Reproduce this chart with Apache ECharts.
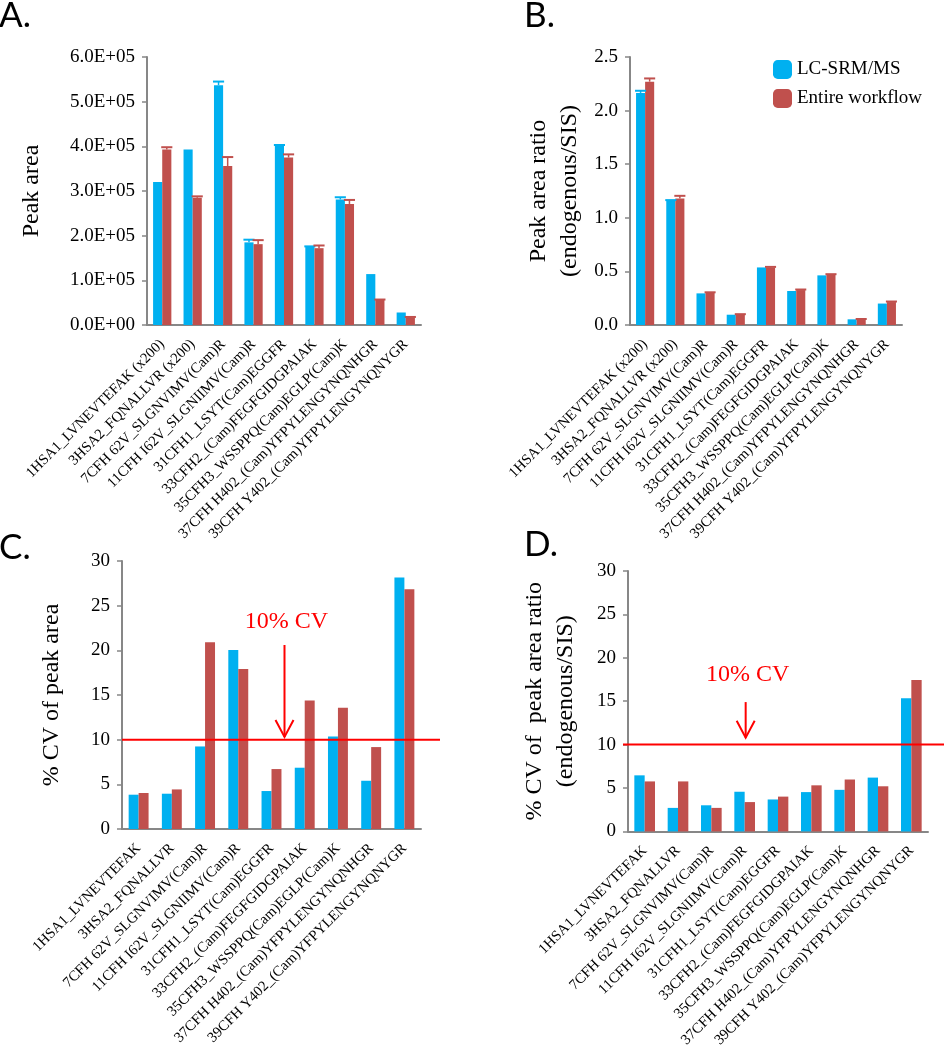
<!DOCTYPE html>
<html>
<head>
<meta charset="utf-8">
<script src="https://cdn.jsdelivr.net/npm/echarts@6/dist/echarts.min.js"></script>
<style>
html,body{margin:0;padding:0;background:#fff;}
#chart{width:944px;height:1050px;}
</style>
</head>
<body>
<div id="chart"></div>
<script>
// ---------------- DATA ----------------
const categoriesAB = [
  '1HSA1_LVNEVTEFAK (x200)', '3HSA2_FQNALLVR (x200)', '7CFH 62V_SLGNVIMV(Cam)R',
  '11CFH I62V_SLGNIIMV(Cam)R', '31CFH1_LSYT(Cam)EGGFR', '33CFH2_(Cam)FEGFGIDGPAIAK',
  '35CFH3_WSSPPQ(Cam)EGLP(Cam)K', '37CFH H402_(Cam)YFPYLENGYNQNHGR', '39CFH Y402_(Cam)YFPYLENGYNQNYGR'
];
const categoriesCD = [
  '1HSA1_LVNEVTEFAK', '3HSA2_FQNALLVR', '7CFH 62V_SLGNVIMV(Cam)R',
  '11CFH I62V_SLGNIIMV(Cam)R', '31CFH1_LSYT(Cam)EGGFR', '33CFH2_(Cam)FEGFGIDGPAIAK',
  '35CFH3_WSSPPQ(Cam)EGLP(Cam)K', '37CFH H402_(Cam)YFPYLENGYNQNHGR', '39CFH Y402_(Cam)YFPYLENGYNQNYGR'
];
const seriesNames = ['LC-SRM/MS', 'Entire workflow'];

// A: peak area
const areaLC      = [320000, 393000, 537000, 185000, 402000, 175000, 281000, 114000, 28000];
const areaLCErr   = [0, 0, 8000, 6000, 1000, 1000, 5000, 0, 0];
const areaWF      = [393000, 285000, 356000, 181000, 375000, 172000, 271000, 56000, 17000];
const areaWFErr   = [5000, 3000, 20000, 9000, 7000, 6000, 9000, 1000, 1000];
const yTicksA     = ['0.0E+00', '1.0E+05', '2.0E+05', '3.0E+05', '4.0E+05', '5.0E+05', '6.0E+05'];

// B: peak area ratio
const ratioLC     = [2.165, 1.16, 0.295, 0.096, 0.537, 0.317, 0.463, 0.053, 0.20];
const ratioLCErr  = [0.02, 0.005, 0, 0, 0, 0, 0, 0, 0];
const ratioWF     = [2.27, 1.18, 0.30, 0.096, 0.537, 0.326, 0.469, 0.053, 0.214];
const ratioWFErr  = [0.03, 0.025, 0.005, 0.005, 0.005, 0.005, 0.005, 0.003, 0.005];
const yTicksB     = ['0.0', '0.5', '1.0', '1.5', '2.0', '2.5'];

// C: %CV of peak area
const cvAreaLC    = [3.84, 3.95, 9.24, 20.05, 4.25, 6.86, 10.36, 5.40, 28.14];
const cvAreaWF    = [4.03, 4.43, 20.9, 17.9, 6.71, 14.39, 13.57, 9.17, 26.84];

// D: %CV of peak area ratio
const cvRatioLC   = [6.46, 2.71, 3.01, 4.57, 3.68, 4.53, 4.79, 6.20, 15.34];
const cvRatioWF   = [5.76, 5.76, 2.71, 3.38, 4.01, 5.31, 5.98, 5.20, 17.45];

const cvThreshold = 10;
const cvLabel = '10% CV';

// ---------------- STYLE ----------------
const BLUE = '#00B0F0', RED = '#C0504D', AXIS = '#878787', LINE_RED = '#FF0000';
const SERIF = '"Liberation Serif", "Times New Roman", serif';

const chart = echarts.init(document.getElementById('chart'), null, {renderer: 'canvas'});

function errRender(sign, color, gapFrac) {
  return function (params, api) {
    const e = api.value(2);
    if (!e) return null;
    const x = api.value(0), v = api.value(1);
    const band = api.size([1, 0])[0];
    const bw = band * (1 - gapFrac) / 2;
    const top = api.coord([x, v + e]);
    const base = api.coord([x, v]);
    const cx = top[0] + sign * bw / 2;
    const half = bw / 2 + 1;
    return {
      type: 'group',
      children: [
        {type: 'line', shape: {x1: cx, y1: base[1], x2: cx, y2: top[1]}, style: {stroke: color, lineWidth: 1.5}},
        {type: 'line', shape: {x1: cx - half, y1: top[1], x2: cx + half, y2: top[1]}, style: {stroke: color, lineWidth: 2}}
      ]
    };
  };
}

function thresholdRender(cfg) {
  return function (params, api) {
    const cs = params.coordSys;
    const y = api.coord([0, api.value(1)])[1];
    const ax = api.coord([cfg.arrowCat, 0])[0] + cfg.dx;
    const yFrom = api.coord([0, cfg.arrowFrom])[1];
    const yTo = api.coord([0, cfg.arrowTo])[1];
    const yText = api.coord([0, cfg.textAt])[1];
    return {
      type: 'group',
      children: [
        {type: 'line', shape: {x1: cs.x + cfg.left, y1: y, x2: cs.x + cs.width + cfg.right, y2: y}, style: {stroke: LINE_RED, lineWidth: 2}},
        {type: 'line', shape: {x1: ax, y1: yFrom, x2: ax, y2: yTo}, style: {stroke: LINE_RED, lineWidth: 2}},
        {type: 'polyline', shape: {points: [[ax - 9, yTo - 17], [ax, yTo], [ax + 9, yTo - 17]]}, style: {stroke: LINE_RED, lineWidth: 2, fill: null}},
        {type: 'text', style: {x: ax + 2, y: yText, text: cvLabel, fill: LINE_RED, font: '24px ' + SERIF, align: 'center', verticalAlign: 'middle'}}
      ]
    };
  };
}

function xAxisCfg(gridIndex, cats) {
  return {
    type: 'category', gridIndex: gridIndex, data: cats,
    axisLine: {lineStyle: {color: AXIS, width: 2}},
    axisTick: {show: false},
    axisLabel: {rotate: 45, interval: 0, fontSize: 14.7, fontFamily: SERIF, color: '#000', margin: 17}
  };
}
function yAxisCfg(gridIndex, max, interval, ticks, name, nameGap) {
  return {
    type: 'value', gridIndex: gridIndex, min: 0, max: max, interval: interval,
    splitLine: {show: false},
    axisLine: {show: true, lineStyle: {color: AXIS, width: 2}},
    axisTick: {show: true, length: 5, lineStyle: {color: AXIS, width: 1.5}},
    axisLabel: {
      fontSize: 19, fontFamily: SERIF, color: '#000', margin: 12,
      formatter: ticks ? function (v) { return ticks[Math.round(v / interval)]; } : '{value}'
    },
    name: name, nameLocation: 'middle', nameRotate: 90, nameGap: nameGap,
    nameTextStyle: {fontSize: 24, fontFamily: SERIF, color: '#000', lineHeight: 31}
  };
}

function barSeries(name, color, data, axisIdx, gap) {
  return {
    type: 'bar', name: name, xAxisIndex: axisIdx, yAxisIndex: axisIdx,
    data: data, itemStyle: {color: color}, barGap: '0%', barCategoryGap: gap,
    emphasis: {disabled: true}, animation: false
  };
}
function errSeries(values, errs, axisIdx, sign, color, gapFrac) {
  return {
    type: 'custom', xAxisIndex: axisIdx, yAxisIndex: axisIdx, z: 5, clip: false,
    renderItem: errRender(sign, color, gapFrac),
    data: values.map(function (v, i) { return [i, v, errs[i]]; }),
    encode: {x: 0, y: 1}, silent: true, animation: false
  };
}
function thresholdSeries(axisIdx, cfg) {
  return {
    type: 'custom', xAxisIndex: axisIdx, yAxisIndex: axisIdx, z: 6, clip: false,
    renderItem: thresholdRender(cfg),
    data: [[0, cvThreshold]], encode: {x: 0, y: 1}, silent: true, animation: false
  };
}

const titleStyle = {fontFamily: 'Lato, "Open Sans", sans-serif', fontSize: 35, fontWeight: 'normal', color: '#000'};

const option = {
  backgroundColor: '#fff',
  animation: false,
  title: [
    {text: 'A.', left: -1, top: -2, padding: 0, textStyle: titleStyle},
    {text: 'B.', left: 524, top: -2, padding: 0, textStyle: titleStyle},
    {text: 'C.', left: -1, top: 530, padding: 0, textStyle: titleStyle},
    {text: 'D.', left: 524, top: 527, padding: 0, textStyle: titleStyle}
  ],
  legend: {
    data: seriesNames, orient: 'vertical', left: 768, top: 55,
    itemWidth: 19, itemHeight: 19, itemGap: 10, icon: 'roundRect',
    textStyle: {fontSize: 19, fontFamily: SERIF, color: '#000'}, selectedMode: false
  },
  grid: [
    {left: 147, top: 57, width: 274, height: 268},
    {left: 630, top: 57, width: 272, height: 268},
    {left: 122, top: 561, width: 299, height: 268},
    {left: 628, top: 571, width: 300, height: 269}
  ],
  xAxis: [
    xAxisCfg(0, categoriesAB), xAxisCfg(1, categoriesAB),
    xAxisCfg(2, categoriesCD), xAxisCfg(3, categoriesCD)
  ],
  yAxis: [
    yAxisCfg(0, 600000, 100000, yTicksA, 'Peak area', 100),
    yAxisCfg(1, 2.5, 0.5, yTicksB, 'Peak area ratio\n(endogenous/SIS)', 45),
    yAxisCfg(2, 30, 5, null, '% CV of peak area', 55),
    yAxisCfg(3, 30, 5, null, '% CV of  peak area ratio\n(endogenous/SIS)', 47)
  ],
  series: [
    barSeries(seriesNames[0], BLUE, areaLC, 0, '40%'),
    barSeries(seriesNames[1], RED, areaWF, 0, '40%'),
    errSeries(areaLC, areaLCErr, 0, -1, BLUE, 0.4),
    errSeries(areaWF, areaWFErr, 0, 1, RED, 0.4),

    barSeries(seriesNames[0], BLUE, ratioLC, 1, '40%'),
    barSeries(seriesNames[1], RED, ratioWF, 1, '40%'),
    errSeries(ratioLC, ratioLCErr, 1, -1, BLUE, 0.4),
    errSeries(ratioWF, ratioWFErr, 1, 1, RED, 0.4),

    barSeries(seriesNames[0], BLUE, cvAreaLC, 2, '40%'),
    barSeries(seriesNames[1], RED, cvAreaWF, 2, '40%'),
    thresholdSeries(2, {left: 0, right: 19, arrowCat: 4, dx: 13, arrowFrom: 20.6, arrowTo: 10.3, textAt: 23.2}),

    barSeries(seriesNames[0], BLUE, cvRatioLC, 3, '38%'),
    barSeries(seriesNames[1], RED, cvRatioWF, 3, '38%'),
    thresholdSeries(3, {left: -5, right: 20, arrowCat: 3, dx: 1, arrowFrom: 14.9, arrowTo: 10.8, textAt: 18.1})
  ]
};
chart.setOption(option);
</script>
</body>
</html>
